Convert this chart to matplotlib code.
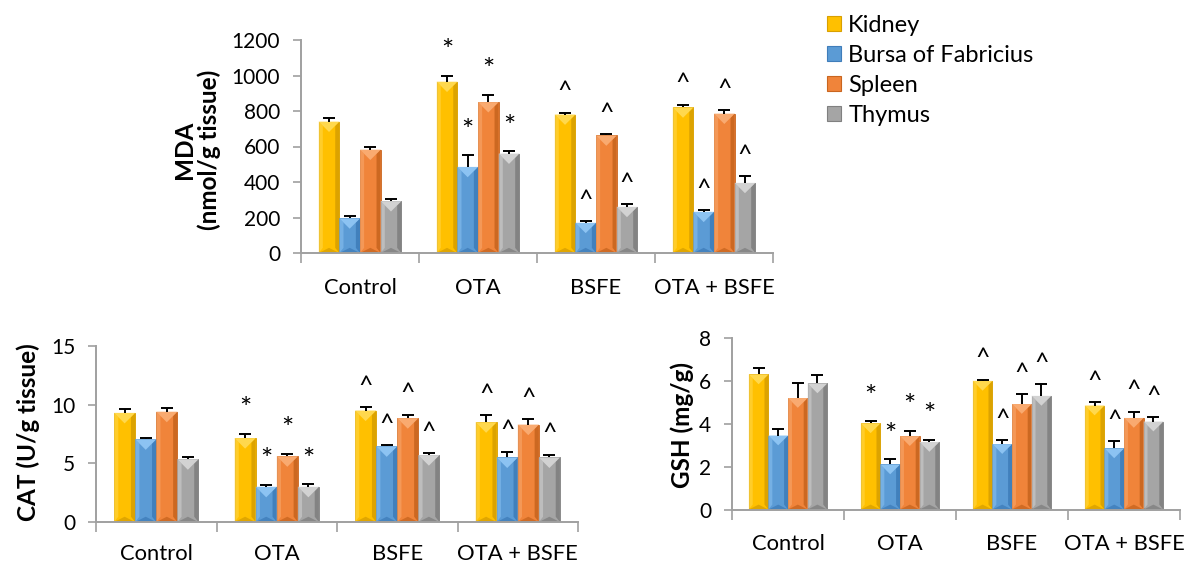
import matplotlib
matplotlib.use("Agg")
import matplotlib.pyplot as plt
import numpy as np
from matplotlib.patches import Polygon, Patch

plt.rcParams['font.family'] = ['Lato', 'DejaVu Sans']

groups = ["Control", "OTA", "BSFE", "OTA + BSFE"]
organs = ["Kidney", "Bursa of Fabricius", "Spleen", "Thymus"]

# MDA (nmol/g tissue): rows = organs, columns = groups
mda_means = [[740, 965, 780, 820],
             [195, 485, 170, 232],
             [582, 850, 662, 785],
             [292, 560, 260, 395]]
mda_errs = [[22, 35, 10, 15],
            [12, 65, 8, 10],
            [18, 40, 8, 20],
            [12, 12, 15, 38]]

# CAT (U/g tissue)
cat_means = [[9.3, 7.15, 9.5, 8.5],
             [7.05, 3.0, 6.45, 5.5],
             [9.4, 5.6, 8.85, 8.3],
             [5.35, 3.0, 5.7, 5.5]]
cat_errs = [[0.35, 0.35, 0.3, 0.6],
            [0.15, 0.15, 0.1, 0.5],
            [0.35, 0.2, 0.3, 0.45],
            [0.15, 0.2, 0.15, 0.25]]

# GSH (mg/g)
gsh_means = [[6.3, 4.02, 6.0, 4.85],
             [3.45, 2.1, 3.05, 2.85],
             [5.2, 3.42, 4.92, 4.27],
             [5.88, 3.15, 5.3, 4.1]]
gsh_errs = [[0.3, 0.1, 0.05, 0.15],
            [0.3, 0.25, 0.18, 0.35],
            [0.7, 0.25, 0.45, 0.3],
            [0.4, 0.1, 0.55, 0.2]]

group_marks = ["", "*", "^", "^"]

base_colors = ["#FFC000", "#5B9BD5", "#F0843A", "#A5A5A5"]
light_colors = ["#FFD84D", "#8CC3F2", "#F9AA70", "#D2D2D2"]
dark_colors = ["#D9A000", "#3F7DBA", "#C9651F", "#808080"]

FIG_W, FIG_H = 1187, 566
fig = plt.figure(figsize=(FIG_W / 100, FIG_H / 100), dpi=100)

AXIS_COLOR = "#A0A0A0"
FS = 15
CAT_FS = 15.8


def make_axes(x0, x1, y_bottom, y_top):
    return fig.add_axes([x0 / FIG_W, 1 - y_bottom / FIG_H,
                         (x1 - x0) / FIG_W, (y_bottom - y_top) / FIG_H])


def draw_chart(ax, means, errs, ymax, yticks, label_pad):
    n = len(groups)
    x = np.arange(n)
    bw = 0.175
    ax.set_xlim(-0.5, n - 0.5)
    ax.set_ylim(0, ymax)
    bbox = ax.get_position()
    ax_w_px = bbox.width * FIG_W
    ax_h_px = bbox.height * FIG_H
    sx = ax_w_px / n           # px per x unit
    sy = ax_h_px / ymax        # px per y unit
    for i in range(len(organs)):
        pos = x + (i - 1.5) * bw
        bars = ax.bar(pos, means[i], width=bw, color=base_colors[i],
                      edgecolor=dark_colors[i], linewidth=0.6, zorder=2,
                      label=organs[i])
        for rect in bars:
            bx = rect.get_x()
            w = rect.get_width()
            h = rect.get_height()
            tri = min((w * sx / 2) / sy, h / 2)
            s = w * 0.2
            tb = min(tri * 0.5, h / 4)
            polys = [
                ([(bx, 0), (bx + s, tb), (bx + s, h - tri * 0.4), (bx, h)], light_colors[i], 0.55),
                ([(bx + w, 0), (bx + w - s, tb), (bx + w - s, h - tri * 0.4), (bx + w, h)], dark_colors[i], 0.9),
                ([(bx, h), (bx + w, h), (bx + w / 2, h - tri)], light_colors[i], 1.0),
                ([(bx, 0), (bx + w, 0), (bx + w / 2, tb)], dark_colors[i], 0.8),
            ]
            for pts, col, a in polys:
                ax.add_patch(Polygon(pts, closed=True, facecolor=col, edgecolor='none',
                                     alpha=a, zorder=2.5))
        eb = ax.errorbar(pos, means[i], yerr=[np.zeros(n), errs[i]], fmt='none',
                         ecolor='black', elinewidth=1.4, capsize=4.5, capthick=1.4, zorder=3)
        caplines = eb[1]
        if len(caplines) > 0:
            caplines[0].set_visible(False)
        for j in range(n):
            m = group_marks[j]
            if m:
                ax.annotate(m, (pos[j], means[i][j] + errs[i][j]),
                            xytext=(0, 17 if m == "*" else 15), textcoords='offset points',
                            ha='center', va='center', fontsize=21 if m == "*" else 18,
                            color='black', zorder=4)
    for side in ['top', 'right']:
        ax.spines[side].set_visible(False)
    for side in ['left', 'bottom']:
        ax.spines[side].set_color(AXIS_COLOR)
        ax.spines[side].set_linewidth(1.4)
    ax.set_yticks(yticks)
    ax.tick_params(axis='y', direction='out', length=6, width=1.2, color=AXIS_COLOR,
                   labelsize=FS, pad=9)
    ax.set_xticks(np.arange(n + 1) - 0.5)
    ax.set_xticklabels([])
    ax.set_xticks(x, minor=True)
    ax.set_xticklabels(groups, minor=True, fontsize=CAT_FS)
    ax.tick_params(axis='x', which='major', direction='out', length=7, width=1.2,
                   color=AXIS_COLOR)
    ax.tick_params(axis='x', which='minor', length=0, pad=label_pad)


ax_mda = make_axes(301, 773, 253, 40)
draw_chart(ax_mda, mda_means, mda_errs, 1200, [0, 200, 400, 600, 800, 1000, 1200], 18)

ax_cat = make_axes(96, 578, 522, 346)
draw_chart(ax_cat, cat_means, cat_errs, 15, [0, 5, 10, 15], 15.5)

ax_gsh = make_axes(732, 1180, 509.5, 338)
draw_chart(ax_gsh, gsh_means, gsh_errs, 8, [0, 2, 4, 6, 8], 17.5)

YL_FS = 17.5
fig.text(197 / FIG_W, 1 - 150 / FIG_H, "MDA\n(nmol/g tissue)", rotation=90,
         ha='center', va='center', fontsize=YL_FS, fontweight='bold', linespacing=1.05)
fig.text(28 / FIG_W, 1 - 432 / FIG_H, "CAT (U/g tissue)", rotation=90,
         ha='center', va='center', fontsize=YL_FS, fontweight='bold')
fig.text(682 / FIG_W, 1 - 425 / FIG_H, "GSH (mg/g)", rotation=90,
         ha='center', va='center', fontsize=YL_FS, fontweight='bold')

handles = [Patch(facecolor=base_colors[i], edgecolor=dark_colors[i], linewidth=0.8)
           for i in range(len(organs))]
fig.legend(handles, organs, loc='upper left', bbox_to_anchor=(827 / FIG_W, 1 - 15 / FIG_H),
           frameon=False, fontsize=17, handlelength=0.6, handleheight=0.6,
           handletextpad=0.3, labelspacing=0.38, borderaxespad=0, borderpad=0)

fig.savefig("out.png", dpi=100)
